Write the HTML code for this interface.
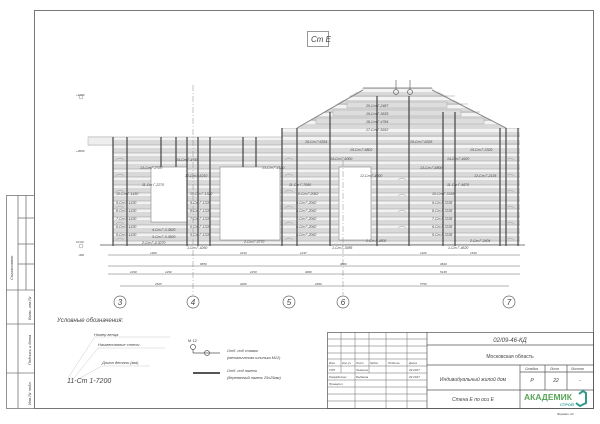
<!DOCTYPE html>
<html><head><meta charset="utf-8"><style>
html,body{margin:0;padding:0;background:#fff;}
svg{display:block;font-family:"Liberation Sans","DejaVu Sans",sans-serif;}
text{font-style:italic;fill:#444;}
</style></head><body>
<svg width="600" height="424" viewBox="0 0 600 424" xmlns="http://www.w3.org/2000/svg">
<defs>
<pattern id="logs" x="0" y="1" width="10" height="8" patternUnits="userSpaceOnUse">
<rect width="10" height="8" fill="#f3f3f3"/><rect y="3" width="10" height="5" fill="#d9d9d9"/>
</pattern>
</defs>
<rect x="34.5" y="10.5" width="559" height="398" fill="none" stroke="#777" stroke-width="1"/>
<g stroke="#777" fill="none" stroke-width="0.8">
<rect x="6.5" y="195.5" width="28" height="213"/>
<line x1="18" y1="195" x2="18" y2="408"/>
<line x1="26" y1="195" x2="26" y2="290"/>
<line x1="18" y1="218" x2="34" y2="218"/>
<line x1="18" y1="244" x2="34" y2="244"/>
<line x1="18" y1="264" x2="34" y2="264"/>
<line x1="6" y1="290" x2="34" y2="290"/>
<line x1="6" y1="324" x2="34" y2="324"/>
<line x1="6" y1="373" x2="34" y2="373"/>
</g>
<g font-size="4" transform="rotate(-90)">
<text x="-280" y="13">Согласовано</text>
<text x="-320" y="31">Взам. инв.№</text>
<text x="-365" y="31">Подпись и дата</text>
<text x="-405" y="31">Инв.№ подл.</text>
</g>
<rect x="307.5" y="31.5" width="21" height="15" fill="none" stroke="#999"/>
<text x="311" y="42" font-size="8">Ст E</text>

<g>
<rect x="113" y="137" width="169" height="108" fill="url(#logs)"/>
<rect x="282" y="128" width="238" height="117" fill="url(#logs)"/>
<polygon points="297,128 363,88 432,88 506,128" fill="url(#logs)"/>
</g>
<g stroke="#999" stroke-width="0.6">
<line x1="88" y1="137" x2="282" y2="137"/><line x1="88" y1="145" x2="282" y2="145"/>
<line x1="113" y1="153" x2="520" y2="153"/><line x1="113" y1="161" x2="520" y2="161"/>
<line x1="113" y1="169" x2="520" y2="169"/><line x1="113" y1="177" x2="520" y2="177"/>
<line x1="113" y1="185" x2="520" y2="185"/><line x1="113" y1="193" x2="520" y2="193"/>
<line x1="113" y1="201" x2="520" y2="201"/><line x1="113" y1="209" x2="520" y2="209"/>
<line x1="113" y1="217" x2="520" y2="217"/><line x1="113" y1="225" x2="520" y2="225"/>
<line x1="113" y1="233" x2="520" y2="233"/><line x1="113" y1="241" x2="520" y2="241"/>
<line x1="282" y1="136" x2="520" y2="136"/><line x1="282" y1="144" x2="520" y2="144"/>
<line x1="312" y1="120" x2="492" y2="120"/><line x1="325" y1="112" x2="480" y2="112"/>
<line x1="338" y1="104" x2="468" y2="104"/><line x1="350" y1="96" x2="455" y2="96"/>
<line x1="363" y1="88" x2="432" y2="88"/>
</g>
<rect x="88" y="137" width="25" height="8" fill="#eee" stroke="#aaa" stroke-width="0.5"/>
<g fill="#ddd" stroke="#aaa" stroke-width="0.5">
<rect x="347" y="102" width="100" height="6"/><rect x="333" y="110" width="128" height="6"/>
<rect x="316" y="118" width="168" height="6"/>
</g>
<g stroke="#777" stroke-width="0.8" fill="none">
<line x1="297" y1="128" x2="363" y2="90"/><line x1="432" y1="90" x2="506" y2="128"/>
<line x1="363" y1="88" x2="432" y2="88"/>
</g>
<g fill="#fff" stroke="#888" stroke-width="0.6">
<rect x="151" y="167" width="36" height="55"/>
<rect x="220" y="167" width="60" height="73"/>
<rect x="339" y="167" width="32" height="73"/>
</g>
<g stroke="#444" stroke-width="1.2">
<line x1="113" y1="137" x2="113" y2="246"/><line x1="127" y1="137" x2="127" y2="246"/>
<line x1="161" y1="137" x2="161" y2="167"/><line x1="176" y1="137" x2="176" y2="167"/>
<line x1="187" y1="137" x2="187" y2="246"/><line x1="198" y1="137" x2="198" y2="246"/>
<line x1="210" y1="137" x2="210" y2="246"/><line x1="243" y1="137" x2="243" y2="167"/>
<line x1="256" y1="137" x2="256" y2="167"/><line x1="282" y1="128" x2="282" y2="246"/>
<line x1="297" y1="128" x2="297" y2="246"/><line x1="330" y1="112" x2="330" y2="246"/>
<line x1="377" y1="96" x2="377" y2="246"/><line x1="409" y1="96" x2="409" y2="246"/>
<line x1="443" y1="112" x2="443" y2="246"/><line x1="455" y1="112" x2="455" y2="246"/>
<line x1="500" y1="128" x2="500" y2="246"/><line x1="506" y1="128" x2="506" y2="246"/>
<line x1="518" y1="128" x2="518" y2="246"/>
</g>
<line x1="100" y1="245" x2="525" y2="245" stroke="#555" stroke-width="0.8"/>
<g fill="none" stroke="#999" stroke-width="0.5">
<path d="M116,160 q4,-4 8,0 M116,176 q4,-4 8,0 M116,192 q4,-4 8,0 M116,208 q4,-4 8,0 M116,224 q4,-4 8,0 M116,240 q4,-4 8,0"/>
<path d="M285,160 q4,-4 8,0 M285,176 q4,-4 8,0 M285,192 q4,-4 8,0 M285,208 q4,-4 8,0 M285,224 q4,-4 8,0 M285,240 q4,-4 8,0"/>
<path d="M506,160 q4,-4 8,0 M506,176 q4,-4 8,0 M506,192 q4,-4 8,0 M506,208 q4,-4 8,0 M506,224 q4,-4 8,0 M506,240 q4,-4 8,0"/>
<path d="M398,180 q4,-4 8,0 M398,196 q4,-4 8,0 M398,212 q4,-4 8,0 M398,228 q4,-4 8,0"/>
</g>
<g font-size="3.5">
<text x="366" y="107">20-Ст Г-2487</text><text x="366" y="115">19-Ст Г-3635</text>
<text x="366" y="123">18-Ст Г-4784</text><text x="366" y="131">17-Ст Г-5932</text>
<text x="305" y="143">16-Ст Г-6334</text><text x="410" y="143">16-Ст Г-6326</text>
<text x="350" y="151">15-Ст Г-9802</text><text x="470" y="151">15-Ст Г-2329</text>
<text x="330" y="160">14-Ст Г-6000</text><text x="447" y="160">14-Ст Г-4620</text>
<text x="176" y="161">14-Ст Г-4745</text>
<text x="140" y="169">13-Ст Г-2720</text><text x="262" y="169">13-Ст Г-4120</text>
<text x="420" y="169">13-Ст Г-6800</text>
<text x="185" y="177">12-Ст Г-6210</text><text x="360" y="177">12-Ст Г-4300</text><text x="474" y="177">12-Ст Г-2135</text>
<text x="142" y="186">11-Ст Г-2270</text><text x="289" y="186">11-Ст Г-7000</text><text x="447" y="186">11-Ст Г-4670</text>
<text x="116" y="195">10-Ст Г-1430</text><text x="190" y="195">10-Ст Г-1320</text><text x="296" y="195">10-Ст Г-2062</text><text x="432" y="195">10-Ст Г-3338</text>
<text x="116" y="204">9-Ст Г-1430</text><text x="190" y="204">9-Ст Г-1320</text><text x="296" y="204">9-Ст Г-2062</text><text x="432" y="204">9-Ст Г-3338</text>
<text x="116" y="212">8-Ст Г-1430</text><text x="190" y="212">8-Ст Г-1320</text><text x="296" y="212">8-Ст Г-2062</text><text x="432" y="212">8-Ст Г-3338</text>
<text x="116" y="220">7-Ст Г-1430</text><text x="190" y="220">7-Ст Г-1320</text><text x="296" y="220">7-Ст Г-2062</text><text x="432" y="220">7-Ст Г-3338</text>
<text x="116" y="228">6-Ст Г-1430</text><text x="190" y="228">6-Ст Г-1320</text><text x="296" y="228">6-Ст Г-2062</text><text x="432" y="228">6-Ст Г-3338</text>
<text x="116" y="236">5-Ст Г-1430</text><text x="190" y="236">5-Ст Г-1320</text><text x="296" y="236">5-Ст Г-2062</text><text x="432" y="236">5-Ст Г-3338</text>
<text x="152" y="231">4-Ст Г-3-3820</text><text x="152" y="238">3-Ст Г-3-3820</text><text x="142" y="244">2-Ст Г-4-3270</text>
<text x="244" y="243">2-Ст Г-3770</text><text x="366" y="242">2-Ст Г-4800</text><text x="470" y="242">2-Ст Г-2404</text>
<text x="187" y="249">1-Ст Г-4260</text><text x="332" y="249">1-Ст Г-3985</text><text x="448" y="249">1-Ст Г-4620</text>
</g>
<g stroke="#888" stroke-width="0.5" stroke-dasharray="6,2,1,2">
<line x1="193" y1="85" x2="193" y2="295"/><line x1="343" y1="160" x2="343" y2="295"/>
</g>
<g font-size="3" fill="#666"><text x="76" y="96">+4200</text><text x="76" y="152">+3000</text><text x="76" y="243">±0.00</text><text x="78" y="256">-300</text></g>
<g stroke="#888" fill="none" stroke-width="0.5"><circle cx="81" cy="97" r="2"/><circle cx="81" cy="246" r="2"/></g>
<g stroke="#666" fill="none" stroke-width="0.7"><circle cx="396" cy="92" r="2.5"/><circle cx="410" cy="92" r="2.5"/><line x1="396" y1="80" x2="396" y2="89"/><line x1="410" y1="80" x2="410" y2="89"/></g>
<g stroke="#666" stroke-width="0.5">
<line x1="108" y1="255" x2="520" y2="255"/><line x1="108" y1="266" x2="520" y2="266"/>
<line x1="108" y1="274" x2="520" y2="274"/><line x1="120" y1="286" x2="509" y2="286"/>
</g>
<g font-size="3" fill="#666">
<text x="150" y="254">1300</text><text x="240" y="254">2310</text><text x="300" y="254">1237</text><text x="420" y="254">1100</text><text x="470" y="254">1540</text>
<text x="200" y="265">6650</text><text x="340" y="265">3800</text><text x="440" y="265">3640</text>
<text x="130" y="273">1030</text><text x="165" y="273">1290</text><text x="250" y="273">2150</text><text x="305" y="273">3060</text><text x="440" y="273">5138</text>
<text x="155" y="285">2525</text><text x="240" y="285">3260</text><text x="315" y="285">1800</text><text x="420" y="285">5750</text>
</g>
<g fill="#fff" stroke="#666" stroke-width="0.7">
<circle cx="120" cy="302" r="6"/><circle cx="193" cy="302" r="6"/><circle cx="289" cy="302" r="6"/><circle cx="343" cy="302" r="6"/><circle cx="509" cy="302" r="6"/>
</g>
<g font-size="8" text-anchor="middle" style="font-style:normal"><text x="120" y="305">3</text><text x="193" y="305">4</text><text x="289" y="305">5</text><text x="343" y="305">6</text><text x="509" y="305">7</text></g>
<text x="57" y="322" font-size="6">Условные обозначения:</text>
<g font-size="4"><text x="94" y="336">Номер венца</text><text x="98" y="346">Наименование стены</text><text x="102" y="364">Длина детали (мм)</text></g>
<text x="67" y="383" font-size="7">11-Ст 1-7200</text>
<g stroke="#bbb" stroke-width="0.4"><line x1="68" y1="378" x2="94" y2="338"/><line x1="74" y1="378" x2="98" y2="348"/><line x1="80" y1="378" x2="102" y2="366"/>
<line x1="94" y1="337" x2="170" y2="337"/><line x1="98" y1="348" x2="165" y2="348"/><line x1="102" y1="366" x2="150" y2="366"/></g>
<text x="188" y="342" font-size="4" style="font-style:normal">М 12</text>
<g stroke="#555" fill="none" stroke-width="0.7"><circle cx="193" cy="347" r="2.5"/><line x1="193" y1="349" x2="193" y2="353"/><line x1="193" y1="353" x2="220" y2="353"/><circle cx="207" cy="353" r="2.5"/></g>
<line x1="193" y1="373" x2="220" y2="373" stroke="#555" stroke-width="2"/>
<g font-size="3.8"><text x="227" y="352">Отб. под стяжки</text><text x="227" y="359">(металическая шпилька М12)</text>
<text x="227" y="372">Отб. под нагели</text><text x="227" y="379">(деревянный нагель 25х25мм)</text></g>
<g stroke="#555" fill="none" stroke-width="0.7">
<rect x="327.5" y="332.5" width="266" height="76"/>
<line x1="427" y1="332" x2="427" y2="408"/>
<line x1="427" y1="345" x2="594" y2="345"/><line x1="427" y1="365" x2="594" y2="365"/><line x1="427" y1="390" x2="594" y2="390"/>
<line x1="520" y1="365" x2="520" y2="408"/><line x1="545" y1="365" x2="545" y2="390"/><line x1="567" y1="365" x2="567" y2="390"/>
<line x1="520" y1="372" x2="594" y2="372"/>
</g>
<g stroke="#666" fill="none" stroke-width="0.5">
<line x1="341" y1="332" x2="341" y2="373"/><line x1="355" y1="332" x2="355" y2="408"/><line x1="369" y1="332" x2="369" y2="373"/>
<line x1="386" y1="332" x2="386" y2="408"/><line x1="407" y1="332" x2="407" y2="408"/>
<line x1="327" y1="339" x2="427" y2="339"/><line x1="327" y1="346" x2="427" y2="346"/><line x1="327" y1="353" x2="427" y2="353"/>
<line x1="327" y1="359" x2="427" y2="359"/><line x1="327" y1="366" x2="427" y2="366"/><line x1="327" y1="373" x2="427" y2="373"/>
<line x1="327" y1="380" x2="427" y2="380"/><line x1="327" y1="387" x2="427" y2="387"/><line x1="327" y1="394" x2="427" y2="394"/>
<line x1="327" y1="401" x2="427" y2="401"/>
</g>
<g font-size="3"><text x="329" y="364">Изм.</text><text x="342" y="364">Кол.уч</text><text x="356" y="364">Лист</text><text x="370" y="364">№док</text><text x="388" y="364">Подпись</text><text x="409" y="364">Дата</text>
<text x="329" y="371">ГИП</text><text x="356" y="371">Лемехин</text><text x="409" y="371">03.2017</text>
<text x="329" y="378">Разработал</text><text x="356" y="378">Рыбаков</text><text x="409" y="378">03.2017</text><text x="329" y="385">Проверил</text></g>
<text x="510" y="342" font-size="6" text-anchor="middle">02/09-46-КД</text>
<text x="510" y="358" font-size="5" text-anchor="middle" style="font-style:normal">Московская область</text>
<text x="473" y="381" font-size="5" text-anchor="middle">Индивидуальный жилой дом</text>
<text x="473" y="401" font-size="5" text-anchor="middle">Стена E по оси E</text>
<g font-size="3.5"><text x="525" y="370">Стадия</text><text x="550" y="370">Лист</text><text x="571" y="370">Листов</text></g>
<g font-size="5" text-anchor="middle"><text x="532" y="382">Р</text><text x="556" y="382">22</text><text x="580" y="382">-</text></g>
<text x="524" y="400" font-size="8.5" font-weight="bold" style="font-style:normal;fill:#5aa55a">АКАДЕМИК</text>
<text x="560" y="406" font-size="4" font-weight="bold" style="font-style:normal;fill:#3aa0a0">СТРОЙ</text>
<path d="M579,394 l4,-3 l3,2 v10 l-6,3 l-4,-3" fill="none" stroke="#2f9a8a" stroke-width="2"/>
<text x="557" y="415" font-size="3">Формат А3</text>
</svg>
</body></html>
